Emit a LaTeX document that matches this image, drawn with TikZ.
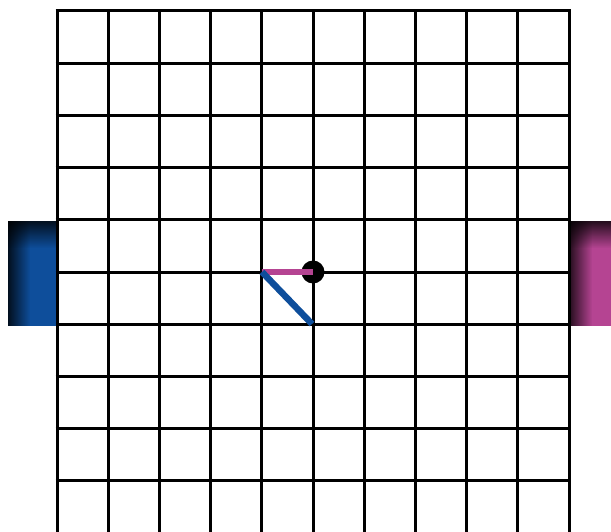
\documentclass[tikz,border=0pt]{standalone}
\usetikzlibrary{fadings}
\definecolor{goalblue}{RGB}{14,78,155}
\definecolor{goalpink}{RGB}{181,68,146}
\tikzset{
  gridline/.style={black, line width=3pt},
  arm/.style={line width=6.5pt},
}

\begin{document}
\begin{tikzpicture}[x=1pt, y=-1pt]
                \useasboundingbox (0,0) rectangle (611,532);
                \clip (0,0) rectangle (611,532);

                % goals
                \fill[goalblue] (8,221) rectangle (57,326);
                \fill[black, opacity=0.8, path fading=east] (8,221) rectangle (30,326);
                \fill[black, opacity=0.8, path fading=south] (8,221) rectangle (57,248);
                \fill[goalpink] (569,221) rectangle (611,326);
                \fill[black, opacity=0.8, path fading=east] (569,221) rectangle (592,326);
                \fill[black, opacity=0.8, path fading=south] (569,221) rectangle (611,248);

                % field
                \foreach \c in {0,...,10}
                    \draw[gridline] (57+51.2*\c, 11) -- (57+51.2*\c, 540);
                \foreach \r in {0,...,9}
                    \draw[gridline] (55.5, 11+52.2*\r) -- (570.5, 11+52.2*\r);

                \node[circle, fill=black, inner sep=0pt, minimum size=23pt] (ball) at (313,272) {};
                \coordinate (pivot) at (262,272);
                \coordinate (tip)   at (312,324);

                \draw[arm, goalpink] (pivot) -- (ball.center);
                \draw[arm, goalblue] (pivot) -- (tip);
            \end{tikzpicture}
\end{document}
